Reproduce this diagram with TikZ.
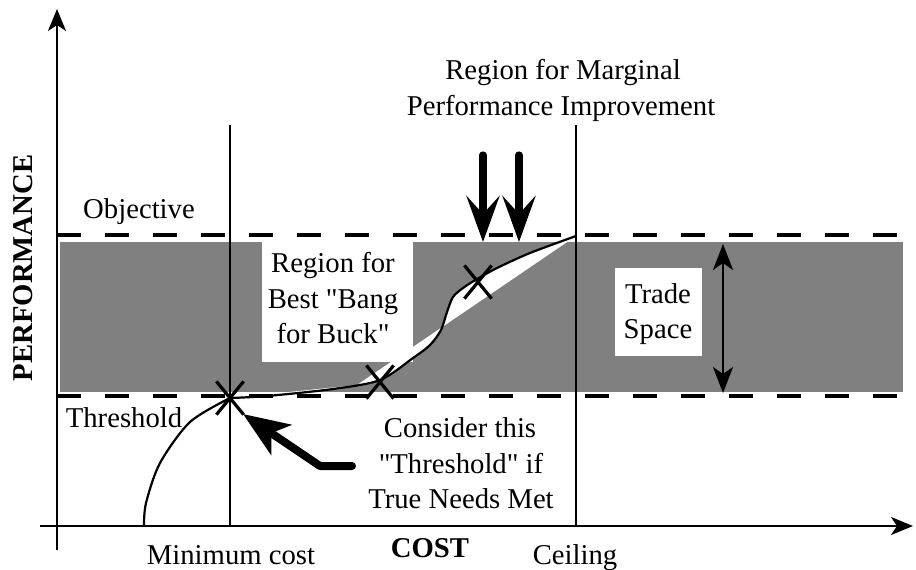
\documentclass[tikz,border=0pt]{standalone}
\usepackage{fontspec}
\setmainfont{Liberation Serif}[Ligatures=TeXOff]
\usetikzlibrary{arrows.meta,shapes.misc}
\begin{document}
\begin{tikzpicture}[x=0.5pt,y=-0.5pt,
  font=\fontsize{14.35pt}{18.5pt}\selectfont,
  lbl/.style={anchor=base,inner sep=0pt},
  axisline/.style={line width=1.1pt,-{Stealth[length=11pt,width=9pt,inset=3pt]}},
  vline/.style={line width=1.2pt},
  dashline/.style={line width=2pt,dash pattern=on 12pt off 12pt},
  curveline/.style={line width=1.1pt},
  xmark/.style={draw,cross out,minimum width=12pt,minimum height=15pt,inner sep=0pt,line width=1.6pt},
  downarrow/.style={line width=3.6pt,line cap=round,-{Stealth[length=23pt,width=16.5pt,inset=9pt]}},
  bigarrow/.style={line width=4pt,line cap=round,line join=round,-{Stealth[length=23pt,width=18pt,inset=6pt]}},
  tradearrow/.style={line width=1.3pt,{Stealth[length=13pt,width=10pt,inset=3.5pt]}-{Stealth[length=13pt,width=10pt,inset=3.5pt]}},
  graybox/.style={fill=black!50},
  whitebox/.style={fill=white}]
\useasboundingbox (0,0) rectangle (916,569);
% trade space band
\fill[graybox] (60,242) rectangle (903,392);
\def\curveB{(230,398) (267,396) (333,389) (380,380) (413,358) (430,345) (441,330) (447,312) (453,297) (463,288) (477,279) (497,268) (530,253) (576,236)}
\fill[whitebox] plot[smooth] coordinates {\curveB} -- (357,385) -- cycle;
\fill[whitebox] (262,242) rectangle (413,362);
\fill[whitebox] (615,268) rectangle (702,356);
% dashed objective / threshold lines
\coordinate (objL) at (57,235); \coordinate (objR) at (897,235);
\coordinate (thrL) at (57,396); \coordinate (thrR) at (897,396);
\draw[dashline] (objL) -- (objR);
\draw[dashline] (thrL) -- (thrR);
% vertical lines
\coordinate (minT) at (230,125); \coordinate (minB) at (230,526);
\coordinate (ceilT) at (576,125); \coordinate (ceilB) at (576,526);
\draw[vline] (minT) -- (minB);
\draw[vline] (ceilT) -- (ceilB);
% axes
\coordinate (yB) at (57,550); \coordinate (yT) at (57,9);
\coordinate (xL) at (40,526); \coordinate (xR) at (913,526);
\draw[axisline] (yB) -- (yT);
\draw[axisline] (xL) -- (xR);
% curve
\draw[curveline] plot[smooth] coordinates {(144,526) (146,503) (160,463) (190,422) (230,398)};
\draw[curveline] plot[smooth] coordinates {\curveB};
% X marks
\node[xmark] (x1) at (230,398) {};
\node[xmark] (x2) at (380,382) {};
\node[xmark] (x3) at (478,282) {};
% arrows
\coordinate (a1s) at (483,155); \coordinate (a1e) at (483,242);
\coordinate (a2s) at (519,155); \coordinate (a2e) at (519,242);
\draw[downarrow] (a1s) -- (a1e);
\draw[downarrow] (a2s) -- (a2e);
\coordinate (bs) at (352,466); \coordinate (bm) at (320,466); \coordinate (be) at (243,414);
\draw[bigarrow] (bs) -- (bm) -- (be);
\coordinate (ts) at (723,244); \coordinate (te) at (723,393);
\draw[tradearrow] (ts) -- (te);
% labels
\node[lbl] (m1) at (563,79) {Region for Marginal};
\node[lbl] (m2) at (561,115) {Performance Improvement};
\node[lbl] (obj) at (139,218) {Objective};
\node[lbl] (thr) at (124,427) {Threshold};
\node[lbl] (b1) at (333,272) {Region for};
\node[lbl] (b2) at (333,308) {Best "Bang};
\node[lbl] (b3) at (333,343) {for Buck"};
\node[lbl] (t1) at (658,303) {Trade};
\node[lbl] (t2) at (658,338) {Space};
\node[lbl] (c1) at (460,437) {Consider this};
\node[lbl] (c2) at (461,473) {"Threshold" if};
\node[lbl] (c3) at (461,508) {True Needs Met};
\node[lbl] (minc) at (231,564) {Minimum cost};
\node[lbl,font=\fontsize{14.35pt}{18.5pt}\selectfont\bfseries] (cost) at (430,557) {COST};
\node[lbl] (ceil) at (575,564) {Ceiling};
\node[font=\fontsize{14.35pt}{18.5pt}\selectfont\bfseries,rotate=90,inner sep=0pt] (perf) at (23,268) {PERFORMANCE};
\end{tikzpicture}
\end{document}
